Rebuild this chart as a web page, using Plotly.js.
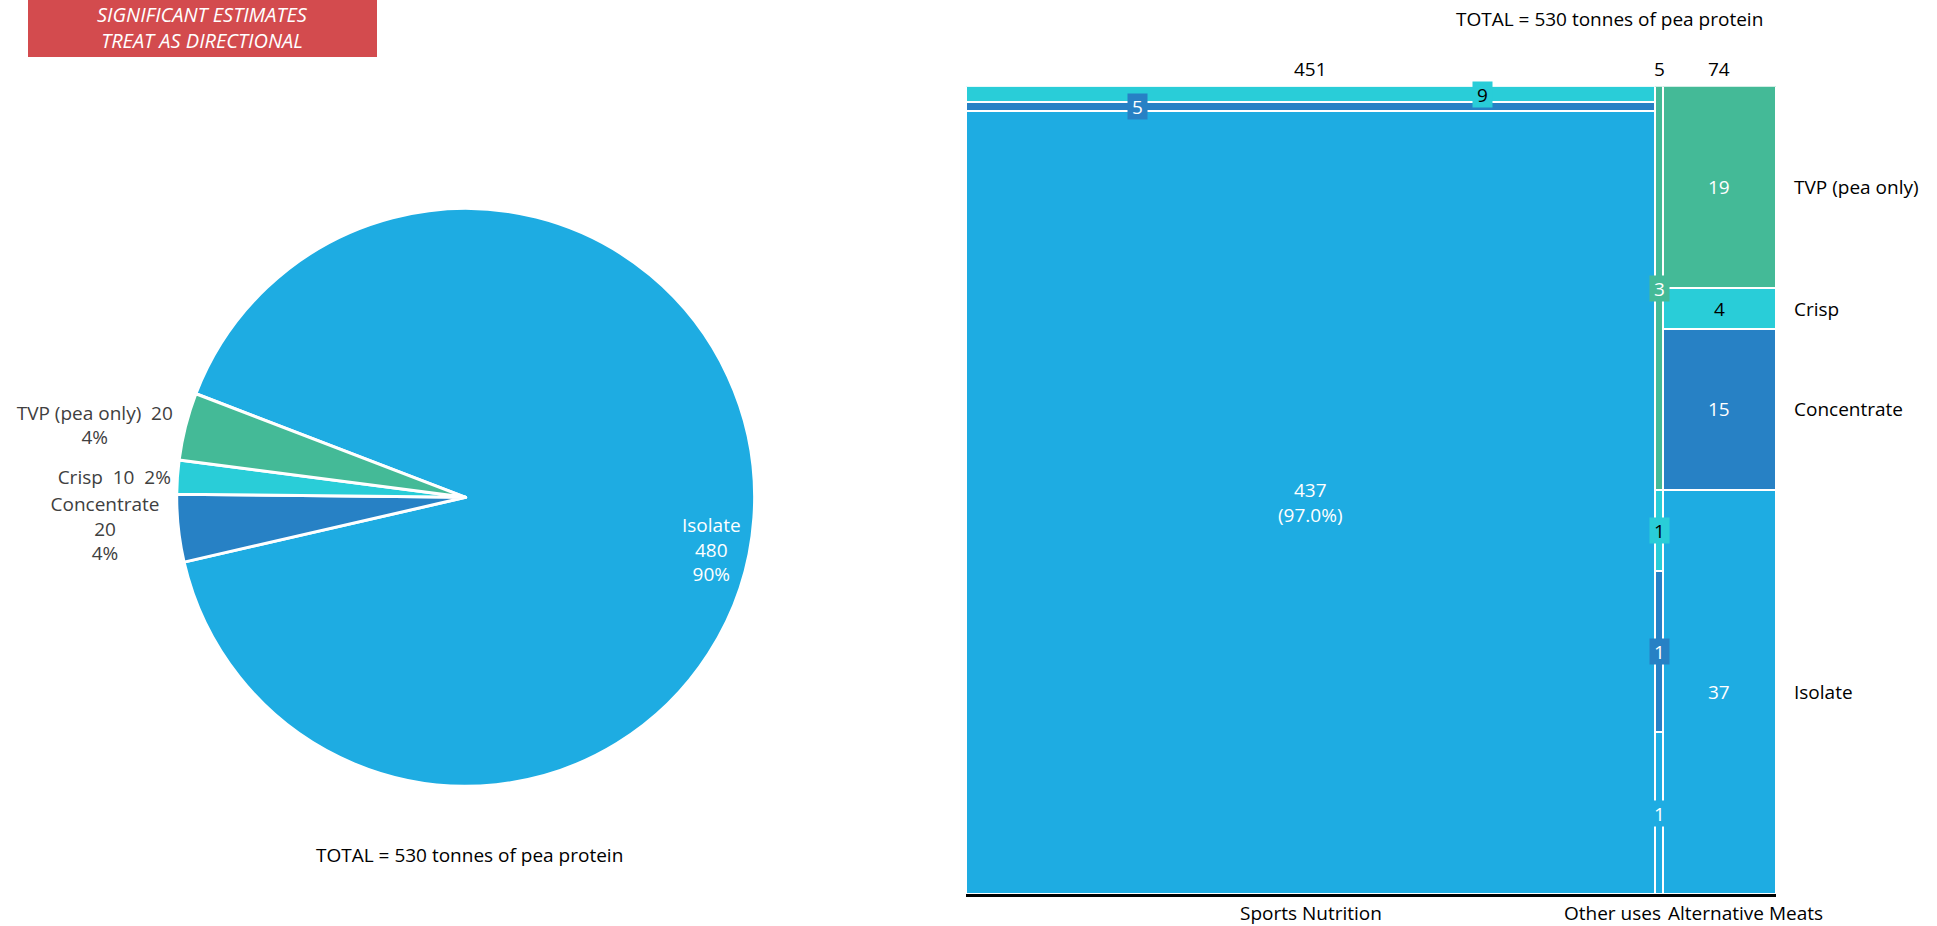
<!DOCTYPE html>
<html>
<head>
<meta charset="utf-8">
<script src="https://cdn.plot.ly/plotly-3.0.1.min.js"></script>
<style>html,body{margin:0;padding:0;background:#fff;}#chart{width:1937px;height:926px;}</style>
</head>
<body>
<div id="chart"></div>
<script>
// ---- Pie data ----
var pieLabels = ['Isolate', 'Concentrate', 'Crisp', 'TVP (pea only)'];
var pieValues = [480, 20, 10, 20];
var piePct = [90, 4, 2, 4];

// ---- Marimekko data ----
var columns = ['Sports Nutrition', 'Other uses', 'Alternative Meats'];
var colTotals = [451, 5, 74];
var segments = ['Isolate', 'Concentrate', 'Crisp', 'TVP (pea only)'];
var isolate = [437.4, 1, 37];
var concentrate = [5.0, 1, 14.8];
var crisp = [8.6, 0.5, 3.7];
var tvp = [0, 2.5, 18.5];

var colors = {
  'Isolate': '#1EACE2',
  'Concentrate': '#2781C5',
  'Crisp': '#29CDD8',
  'TVP (pea only)': '#44BA97'
};
var textColors = {
  'Isolate': '#FFFFFF',
  'Concentrate': '#FFFFFF',
  'Crisp': '#000000',
  'TVP (pea only)': '#FFFFFF'
};
var FONT = 'Open Sans, sans-serif';
var FS = 19;
var W = 1937, H = 926;

var segValues = [isolate, concentrate, crisp, tvp];

// column geometry from data
var colStart = [], colMid = [];
var acc = 0;
for (var i = 0; i < colTotals.length; i++) {
  colStart.push(acc);
  colMid.push(acc + colTotals[i] / 2);
  acc += colTotals[i];
}
var grandTotal = acc;

var pieDomain = {x: [0.0912, 0.3896], y: [0.1509, 0.7750]};
var pieRotation = -69;

var traces = [];

// pie
traces.push({
  type: 'pie',
  labels: pieLabels,
  values: pieValues,
  customdata: piePct,
  sort: false,
  direction: 'clockwise',
  rotation: pieRotation,
  domain: pieDomain,
  marker: {colors: pieLabels.map(function (l) { return colors[l]; }), line: {color: '#FFFFFF', width: 3}},
  textposition: ['none', 'outside', 'outside', 'outside'],
  texttemplate: [
    '',
    '%{label}<br>%{value}<br>%{customdata}%',
    '%{label}  %{value}  %{customdata}%',
    '%{label}  %{value}<br>%{customdata}%'
  ],
  outsidetextfont: {family: FONT, size: FS, color: '#404040'},
  showlegend: false,
  hoverinfo: 'label+value'
});

// marimekko stacked bars
for (var s = 0; s < segments.length; s++) {
  var ys = segValues[s].map(function (v, k) { return v / colTotals[k] * 100; });
  traces.push({
    type: 'bar',
    name: segments[s],
    x: colMid,
    y: ys,
    width: colTotals,
    marker: {color: colors[segments[s]], line: {color: '#FFFFFF', width: 2}},
    showlegend: false,
    hoverinfo: 'name+y',
    xaxis: 'x',
    yaxis: 'y'
  });
}

var annotations = [];
var shapes = [];

// red note box
shapes.push({type: 'rect', xref: 'paper', yref: 'paper', x0: 28 / W, x1: 377 / W, y0: 1 - 57 / H, y1: 1,
  fillcolor: '#D34B4E', line: {width: 0}, layer: 'above'});
annotations.push({xref: 'paper', yref: 'paper', x: 202 / W, y: 1 - 27 / H, xanchor: 'center', yanchor: 'middle',
  text: '<i>SIGNIFICANT ESTIMATES<br>TREAT AS DIRECTIONAL</i>', showarrow: false,
  font: {family: FONT, size: 20, color: '#FFFFFF'}});

// Isolate pie label: placed inside the large slice, on the outer part of the slice
(function () {
  var cxPx = (pieDomain.x[0] + pieDomain.x[1]) / 2 * W;
  var cyPx = (pieDomain.y[0] + pieDomain.y[1]) / 2 * H;
  var rPx = Math.min((pieDomain.x[1] - pieDomain.x[0]) * W, (pieDomain.y[1] - pieDomain.y[0]) * H) / 2;
  var ang = (-12) * Math.PI / 180; // label direction (math angle)
  var rf = 0.87;
  annotations.push({xref: 'paper', yref: 'paper',
    x: (cxPx + rf * rPx * Math.cos(ang)) / W, y: (cyPx + rf * rPx * Math.sin(ang)) / H,
    xanchor: 'center', yanchor: 'middle', showarrow: false,
    text: pieLabels[0] + '<br>' + pieValues[0] + '<br>' + piePct[0] + '%',
    font: {family: FONT, size: FS, color: '#FFFFFF'}});
})();

// pie total
annotations.push({xref: 'paper', yref: 'paper', x: 469 / W, y: 1 - 855 / H, xanchor: 'center', yanchor: 'middle',
  text: 'TOTAL = ' + grandTotal + ' tonnes of pea protein', showarrow: false,
  font: {family: FONT, size: FS, color: '#000000'}});

// right title
annotations.push({xref: 'paper', yref: 'paper', x: 1609 / W, y: 1 - 19 / H, xanchor: 'center', yanchor: 'middle',
  text: 'TOTAL = ' + grandTotal + ' tonnes of pea protein', showarrow: false,
  font: {family: FONT, size: FS, color: '#000000'}});

// column totals above
for (var c = 0; c < columns.length; c++) {
  annotations.push({xref: 'x', yref: 'y', x: colMid[c], y: 100, yanchor: 'bottom', yshift: 2,
    text: String(colTotals[c]), showarrow: false, font: {family: FONT, size: FS, color: '#000000'}});
}

// category labels under axis
annotations.push({xref: 'x', yref: 'y', x: colMid[0], y: 0, yanchor: 'top', yshift: -4, xanchor: 'center',
  text: columns[0], showarrow: false, font: {family: FONT, size: FS, color: '#000000'}});
annotations.push({xref: 'x', yref: 'y', x: colStart[1] + colTotals[1], y: 0, yanchor: 'top', yshift: -4, xanchor: 'right',
  text: columns[1], showarrow: false, font: {family: FONT, size: FS, color: '#000000'}});
annotations.push({xref: 'x', yref: 'y', x: colStart[2], y: 0, yanchor: 'top', yshift: -4, xanchor: 'left', xshift: 3,
  text: columns[2], showarrow: false, font: {family: FONT, size: FS, color: '#000000'}});

// segment labels
var snLabelX = {1: 112, 2: 338}; // label x positions for thin Sports Nutrition slivers
for (var c2 = 0; c2 < columns.length; c2++) {
  var base = 0;
  for (var s2 = 0; s2 < segments.length; s2++) {
    var v = segValues[s2][c2];
    var pct = v / colTotals[c2] * 100;
    if (v > 0) {
      var mid = base + pct / 2;
      var seg = segments[s2];
      var ann = {xref: 'x', yref: 'y', x: colMid[c2], y: mid, xanchor: 'center', yanchor: 'middle', showarrow: false,
        text: String(Math.round(v)), font: {family: FONT, size: FS, color: textColors[seg]}};
      if (c2 === 0 && s2 === 0) {
        ann.text = Math.round(v) + '<br>(' + pct.toFixed(1) + '%)';
      } else if (c2 === 0 || c2 === 1) {
        if (c2 === 0) ann.x = snLabelX[s2];
        ann.bgcolor = colors[seg];
        ann.borderpad = 0;
        ann.width = 19;
        ann.height = 25;
      }
      annotations.push(ann);
    }
    base += pct;
  }
}

// right side segment names (aligned to Alternative Meats column)
var lastC = columns.length - 1;
var b2 = 0;
for (var s3 = 0; s3 < segments.length; s3++) {
  var p2 = segValues[s3][lastC] / colTotals[lastC] * 100;
  annotations.push({xref: 'x', yref: 'y', x: grandTotal, y: b2 + p2 / 2, xanchor: 'left', yanchor: 'middle', xshift: 16,
    text: segments[s3], showarrow: false, font: {family: FONT, size: FS, color: '#000000'}});
  b2 += p2;
}

var layout = {
  width: W,
  height: H,
  margin: {l: 0, r: 0, t: 0, b: 0, pad: 0},
  paper_bgcolor: '#FFFFFF',
  plot_bgcolor: '#FFFFFF',
  font: {family: FONT, size: FS, color: '#000000'},
  barmode: 'stack',
  bargap: 0,
  showlegend: false,
  xaxis: {domain: [0.4987, 0.9169], range: [0, grandTotal], showline: true, linecolor: '#000000', linewidth: 3,
    showticklabels: false, ticks: '', showgrid: false, zeroline: false, fixedrange: true},
  yaxis: {domain: [0.0346, 0.9066], range: [0, 100], visible: false, showgrid: false, zeroline: false, fixedrange: true},
  annotations: annotations,
  shapes: shapes
};

Plotly.newPlot('chart', traces, layout, {displayModeBar: false, staticPlot: true});
</script>
</body>
</html>
